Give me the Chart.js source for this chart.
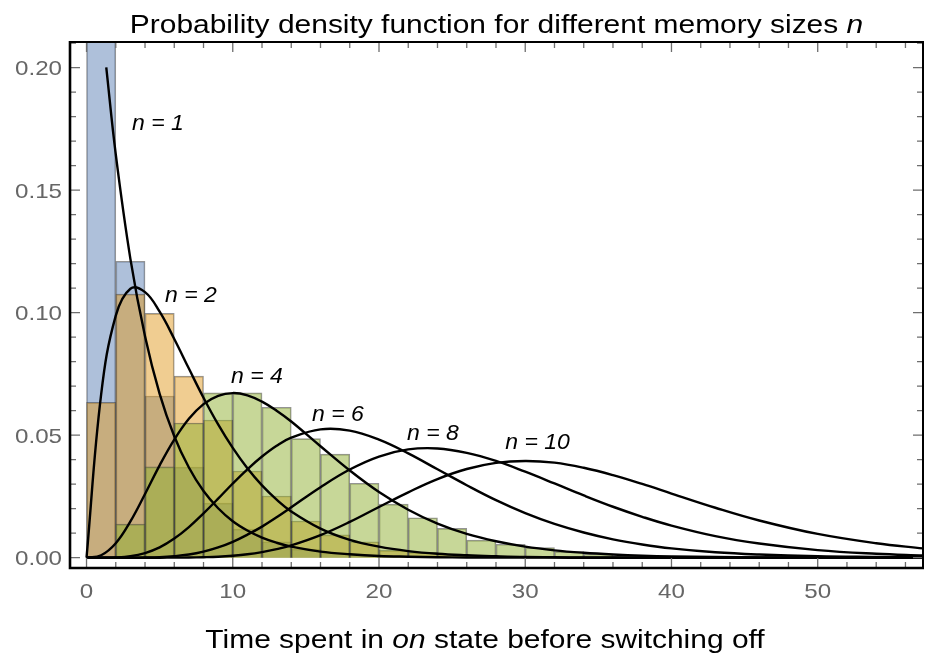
<!DOCTYPE html>
<html>
<head>
<meta charset="utf-8">
<script src="https://cdn.jsdelivr.net/npm/chart.js@4.4.1/dist/chart.umd.min.js"></script>
<style>
  html, body { margin: 0; padding: 0; background: #fff; }
  canvas { display: block; }
</style>
</head>
<body>
<canvas id="chart" width="930" height="656"></canvas>
<script>
// histogram bins (width 2), given by their centres
var binCenters = [1, 3, 5, 7, 9, 11, 13, 15, 17, 19, 21, 23, 25, 27, 29, 31, 33, 35, 37, 39, 41, 43];
var histN1 = [0.226, 0.121, 0.066, 0.037, 0.0223, 0.0117, 0.0065, 0.0035, 0.002, 0.001, 0.0006, 0.0003, 0.0002, 0.0001];
var histN2 = [0.0634, 0.1076, 0.0997, 0.0741, 0.0562, 0.0354, 0.0252, 0.015, 0.0093, 0.0065, 0.003, 0.0022, 0.0014, 0.001, 0.0006, 0.0004, 0.0002, 0.0001];
var histN4 = [0.0005, 0.0137, 0.0371, 0.055, 0.0673, 0.0673, 0.0614, 0.0486, 0.0423, 0.0304, 0.0219, 0.0163, 0.012, 0.0072, 0.0055, 0.0041, 0.0025, 0.0015, 0.0008, 0.0005, 0.0003, 0.0002];

// sampled density curves
var curveX1 = [1.35, 2, 3, 4, 5, 6, 7, 8, 9, 10, 11, 12, 13, 14, 16, 18, 20, 22, 24, 26, 28, 30, 32, 34, 36, 38, 40, 43, 46, 50, 54, 57.2];
var curveN1 = [0.2001, 0.1646, 0.1220, 0.0904, 0.0669, 0.0496, 0.0368, 0.0272, 0.0202, 0.0149, 0.0111, 0.0082, 0.0061, 0.0045, 0.0025, 0.0014, 0.0007, 0.0004, 0.0002, 0.0001, 0.00007, 0.00004, 0.00002, 0.00001, 0.000006, 0.000003, 0.000002, 0.000001, 0, 0, 0, 0];

var curveX = [0, 1, 2, 3, 4, 5, 6, 7, 8, 9, 10, 11, 12, 13, 14, 16, 18, 20, 22, 24, 26, 28, 30, 32, 34, 36, 38, 40, 43, 46, 50, 54, 57.2];
var curveN2 = [0, 0.0667, 0.0988, 0.1098, 0.1084, 0.1004, 0.0893, 0.0772, 0.0653, 0.0544, 0.0448, 0.0365, 0.0295, 0.0237, 0.0189, 0.0119, 0.0073, 0.0045, 0.0027, 0.0016, 0.0010, 0.0006, 0.0003, 0.0002, 0.0001, 0.00007, 0.00004, 0.00002, 0.00001, 0.000004, 0.000001, 0, 0];
var curveN4 = [0, 0.0010, 0.0059, 0.0148, 0.0260, 0.0377, 0.0482, 0.0567, 0.0627, 0.0661, 0.0672, 0.0663, 0.0637, 0.0600, 0.0556, 0.0455, 0.0356, 0.0268, 0.0196, 0.0139, 0.0097, 0.0067, 0.0045, 0.0030, 0.0020, 0.0013, 0.0008, 0.0005, 0.0003, 0.0001, 0.00005, 0.00002, 0.00001];
var curveN6 = [0, 0.000005, 0.0001, 0.0006, 0.0019, 0.0042, 0.0078, 0.0125, 0.0181, 0.0241, 0.0303, 0.0361, 0.0413, 0.0457, 0.0490, 0.0524, 0.0519, 0.0482, 0.0426, 0.0361, 0.0296, 0.0235, 0.0182, 0.0138, 0.0103, 0.0075, 0.0054, 0.0038, 0.0022, 0.0013, 0.0006, 0.0003, 0.0001];
var curveN8 = [0, 0, 0.000001, 0.00001, 0.00006, 0.0002, 0.0006, 0.0013, 0.0025, 0.0042, 0.0065, 0.0094, 0.0127, 0.0165, 0.0206, 0.0288, 0.0360, 0.0413, 0.0442, 0.0446, 0.0428, 0.0395, 0.0351, 0.0303, 0.0254, 0.0208, 0.0167, 0.0131, 0.0088, 0.0058, 0.0031, 0.0016, 0.0009];
var curveN10 = [0, 0, 0, 0, 0.000001, 0.000007, 0.00003, 0.00008, 0.0002, 0.0004, 0.0008, 0.0014, 0.0023, 0.0035, 0.0050, 0.0092, 0.0146, 0.0207, 0.0267, 0.0321, 0.0362, 0.0387, 0.0395, 0.0388, 0.0367, 0.0337, 0.0301, 0.0262, 0.0204, 0.0152, 0.0097, 0.0059, 0.0038];

var xTickLabels = [0, 10, 20, 30, 40, 50];
var yTickLabels = [0, 0.05, 0.10, 0.15, 0.20];

var curveNames = ['n = 1', 'n = 2', 'n = 4', 'n = 6', 'n = 8', 'n = 10'];
// where each name sits, in data units (left end, baseline)
var nameSpots = [[3.11, 0.1746], [5.37, 0.1045], [9.88, 0.0714], [15.42, 0.0559], [21.92, 0.0480], [28.63, 0.0442]];

var FONT = '"Liberation Sans", Arial, Helvetica, sans-serif';

function pairs(xs, ys) {
  return ys.map(function (v, i) { return { x: xs[i], y: v }; });
}

function histSet(vals, fill, order) {
  return {
    type: 'bar',
    data: pairs(binCenters, vals),
    backgroundColor: fill,
    borderColor: 'rgba(60,60,60,0.55)',
    borderWidth: 1,
    barPercentage: 1,
    categoryPercentage: 1,
    grouped: false,
    order: order
  };
}

function curveSet(xs, vals) {
  return {
    type: 'line',
    data: pairs(xs, vals),
    borderColor: '#000',
    borderWidth: 2.4,
    pointRadius: 0,
    fill: false,
    tension: 0.4,
    order: 1
  };
}

// draw text stretched horizontally by sx, parts = [[text, italic], ...]
function wideText(ctx, parts, x, y, size, sx, align, color) {
  ctx.save();
  ctx.fillStyle = color;
  ctx.textBaseline = 'alphabetic';
  ctx.textAlign = 'left';
  var w = 0;
  parts.forEach(function (p) {
    ctx.font = (p[1] ? 'italic ' : '') + size + 'px ' + FONT;
    w += ctx.measureText(p[0]).width;
  });
  var start = x;
  if (align === 'center') start = x - w * sx / 2;
  if (align === 'right') start = x - w * sx;
  ctx.translate(start, y);
  ctx.scale(sx, 1);
  var cx = 0;
  parts.forEach(function (p) {
    ctx.font = (p[1] ? 'italic ' : '') + size + 'px ' + FONT;
    ctx.fillText(p[0], cx, 0);
    cx += ctx.measureText(p[0]).width;
  });
  ctx.restore();
}

var framePlugin = {
  id: 'frame',
  afterDraw: function (chart) {
    var ctx = chart.ctx;
    var a = chart.chartArea;
    var xs = chart.scales.x, ys = chart.scales.y;

    // ticks, pointing inwards on all four sides
    ctx.save();
    ctx.strokeStyle = '#6e6e6e';
    ctx.lineWidth = 1.3;
    ctx.beginPath();
    for (var v = 0; v <= 56; v += 2) {
      var px = xs.getPixelForValue(v);
      var len = (v % 10 === 0) ? 10 : 6;
      ctx.moveTo(px, a.bottom); ctx.lineTo(px, a.bottom - len);
      ctx.moveTo(px, a.top); ctx.lineTo(px, a.top + len);
    }
    for (var k = 0; k <= 21; k++) {
      var py = ys.getPixelForValue(k / 100);
      var l = (k % 5 === 0) ? 10 : 6;
      ctx.moveTo(a.left, py); ctx.lineTo(a.left + l, py);
      ctx.moveTo(a.right, py); ctx.lineTo(a.right - l, py);
    }
    ctx.stroke();

    // frame
    ctx.strokeStyle = '#000';
    ctx.lineWidth = 2;
    ctx.beginPath();
    ctx.moveTo(a.left, a.top); ctx.lineTo(a.right, a.top); ctx.lineTo(a.right, a.bottom);
    ctx.stroke();
    ctx.lineWidth = 2.6;
    ctx.beginPath();
    ctx.moveTo(a.left, a.top - 1); ctx.lineTo(a.left, a.bottom); ctx.lineTo(a.right + 1, a.bottom);
    ctx.stroke();
    ctx.restore();

    // tick labels
    xTickLabels.forEach(function (t) {
      wideText(ctx, [[String(t), false]], xs.getPixelForValue(t), 598, 21, 1.15, 'center', '#666');
    });
    yTickLabels.forEach(function (t) {
      wideText(ctx, [[t.toFixed(2), false]], a.left - 8, ys.getPixelForValue(t) + 7.5, 21, 1.15, 'right', '#666');
    });

    // curve names
    curveNames.forEach(function (name, i) {
      var s = nameSpots[i];
      wideText(ctx, [[name, true]], xs.getPixelForValue(s[0]), ys.getPixelForValue(s[1]), 21.5, 1.07, 'left', '#000');
    });

    // titles
    wideText(ctx, [['Probability density function for different memory sizes ', false], ['n', true]],
      (a.left + a.right) / 2, 33, 26.5, 1.13, 'center', '#000');
    wideText(ctx, [['Time spent in ', false], ['on', true], [' state before switching off', false]],
      485, 648, 26.5, 1.13, 'center', '#000');
  }
};

new Chart(document.getElementById('chart'), {
  type: 'bar',
  data: {
    datasets: [
      curveSet(curveX1, curveN1),
      curveSet(curveX, curveN2),
      curveSet(curveX, curveN4),
      curveSet(curveX, curveN6),
      curveSet(curveX, curveN8),
      curveSet(curveX, curveN10),
      histSet(histN4, 'rgba(143,176,50,0.5)', 2),
      histSet(histN2, 'rgba(225,156,36,0.5)', 3),
      histSet(histN1, 'rgba(94,129,181,0.5)', 4)
    ]
  },
  options: {
    responsive: false,
    animation: false,
    devicePixelRatio: 1,
    layout: { padding: { left: 70, right: 7, top: 42, bottom: 88 } },
    scales: {
      x: { type: 'linear', display: false, offset: false, min: -1.13, max: 57.2 },
      y: { display: false, min: -0.0042, max: 0.2105 }
    },
    plugins: {
      legend: { display: false },
      tooltip: { enabled: false }
    }
  },
  plugins: [framePlugin]
});
</script>
</body>
</html>
